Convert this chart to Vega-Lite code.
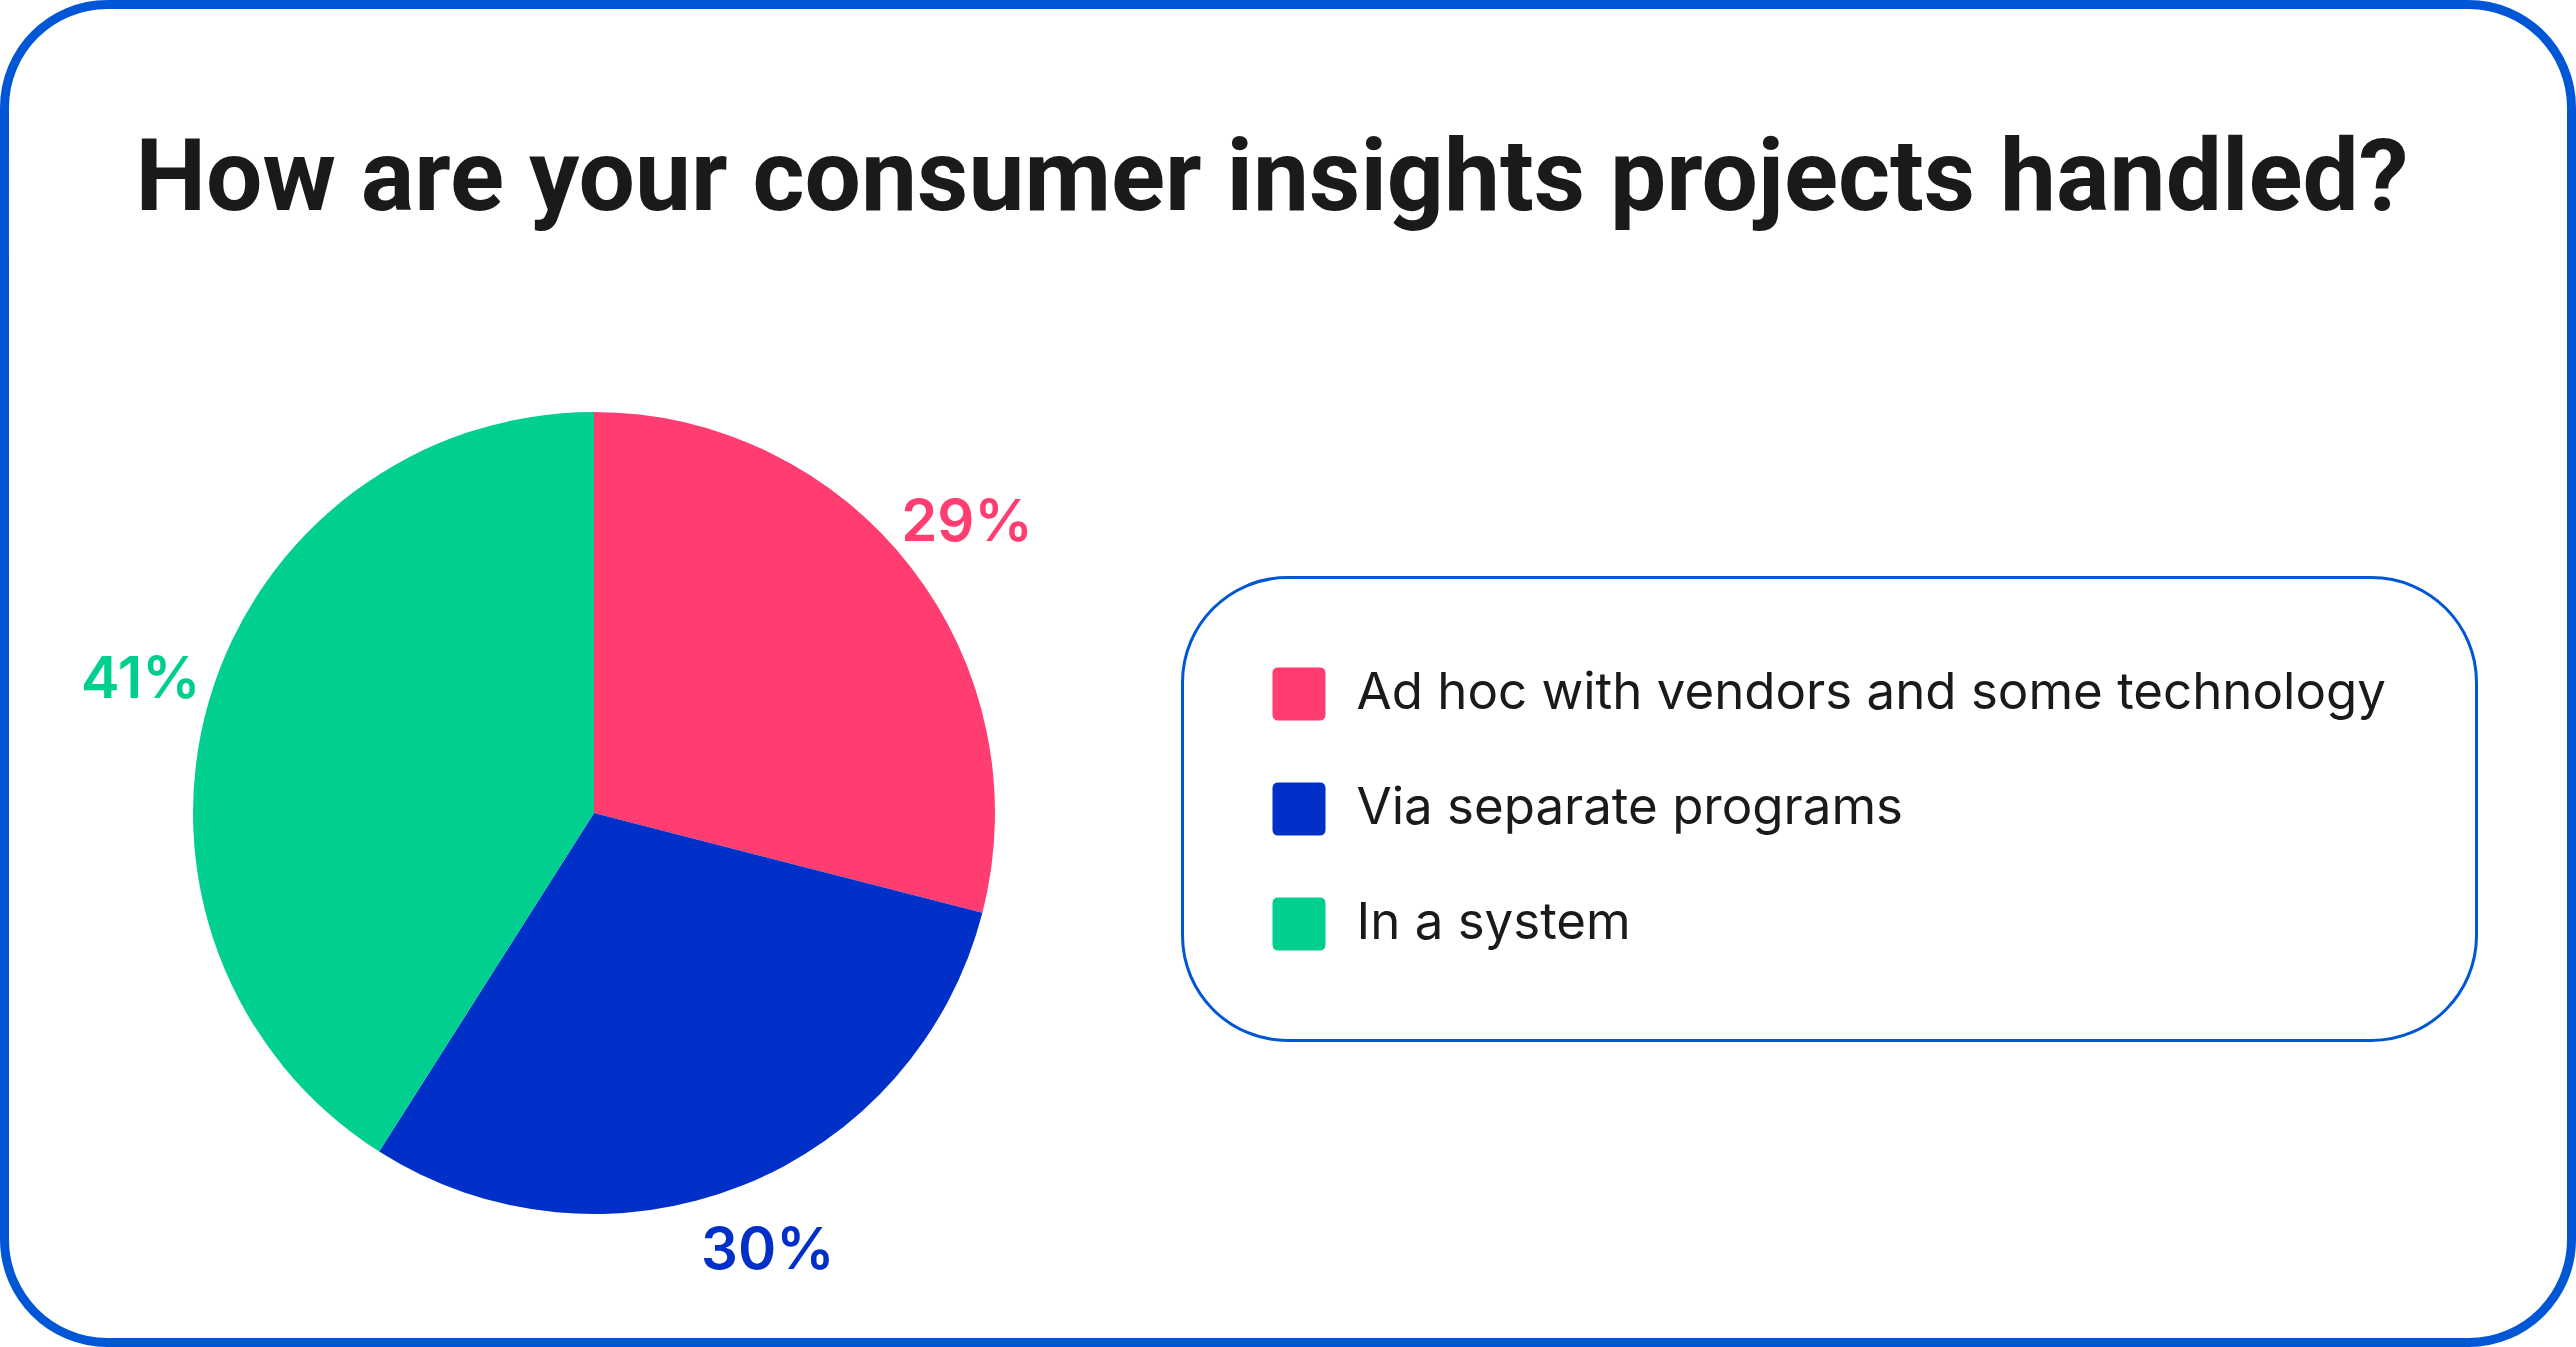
{
  "$schema": "https://vega.github.io/schema/vega-lite/v6.json",
  "autosize": {"type": "fit", "contains": "padding"},
  "width": 2576,
  "height": 1347,
  "padding": 4.5,
  "background": "white",
  "view": {"stroke": "#0057D6", "strokeWidth": 9, "cornerRadius": 103, "fill": "white"},
  "title": {
    "text": "How are your consumer insights projects handled?",
    "anchor": "start",
    "orient": "top",
    "frame": "group",
    "baseline": "alphabetic",
    "offset": -305,
    "dx": 131,
    "font": "Roboto",
    "fontSize": 100,
    "fontWeight": "bold",
    "color": "#1a1a1a"
  },
  "data": {
    "values": [
      {"category": "Ad hoc with vendors and some technology", "share": 0.29, "rank": 1},
      {"category": "Via separate programs", "share": 0.30, "rank": 2},
      {"category": "In a system", "share": 0.41, "rank": 3}
    ]
  },
  "encoding": {
    "theta": {"field": "share", "type": "quantitative", "stack": true},
    "order": {"field": "rank", "type": "quantitative"},
    "color": {
      "field": "category",
      "type": "nominal",
      "scale": {
        "domain": ["Ad hoc with vendors and some technology", "Via separate programs", "In a system"],
        "range": ["#FF3D71", "#0030C8", "#00CF8F"]
      },
      "legend": {
        "title": null,
        "orient": "none",
        "legendX": 1178,
        "legendY": 573,
        "padding": 90,
        "cornerRadius": 105,
        "strokeColor": "#0057D6",
        "symbolType": "M-0.78,-1H0.78Q1,-1,1,-0.78V0.78Q1,1,0.78,1H-0.78Q-1,1,-1,0.78V-0.78Q-1,-1,-0.78,-1Z",
        "symbolSize": 2809,
        "symbolStrokeWidth": 0,
        "symbolOpacity": 1,
        "labelFont": "Inter",
        "labelFontSize": 51,
        "labelColor": "#1a1a1a",
        "labelOffset": 31,
        "labelLimit": 2000,
        "rowPadding": 62
      }
    }
  },
  "layer": [
    {
      "mark": {"type": "arc", "x": 589.5, "y": 808.5, "outerRadius": 401}
    },
    {
      "mark": {"type": "text", "x": 589.5, "y": 808.5, "radius": 472, "font": "Inter", "fontSize": 58, "fontWeight": 600},
      "encoding": {
        "text": {"field": "share", "type": "quantitative", "format": ".0%"},
        "color": {"field": "category", "type": "nominal", "legend": null}
      }
    }
  ],
  "config": {
    "legend": {"strokeWidth": 3}
  }
}
